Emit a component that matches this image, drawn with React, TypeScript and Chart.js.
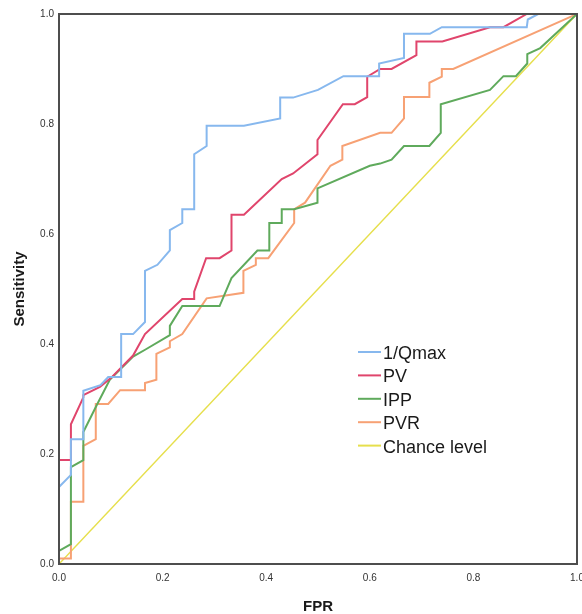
import React, { useEffect, useRef } from "react";
import { Chart, registerables } from "chart.js";

Chart.register(...registerables);

const seriesLabels = ["1/Qmax", "PV", "IPP", "PVR", "Chance level"];
const seriesColors = ["#87b8ee", "#e0456c", "#5faa5c", "#f7a174", "#e6df4c"];
const axisTicks = [0, 0.2, 0.4, 0.6, 0.8, 1.0];

const qmaxRoc: [number, number][] = [
  [0, 0.14], [0.023, 0.162], [0.023, 0.227], [0.047, 0.227], [0.047, 0.315],
  [0.08, 0.325], [0.095, 0.34], [0.12, 0.34], [0.12, 0.418], [0.143, 0.418],
  [0.166, 0.44], [0.166, 0.533], [0.19, 0.544], [0.214, 0.57], [0.214, 0.607],
  [0.238, 0.62], [0.238, 0.645], [0.261, 0.645], [0.261, 0.745], [0.285, 0.76],
  [0.285, 0.797], [0.357, 0.797], [0.427, 0.81], [0.427, 0.848], [0.452, 0.848],
  [0.5, 0.862], [0.549, 0.887], [0.618, 0.887], [0.618, 0.91], [0.666, 0.92],
  [0.666, 0.964], [0.716, 0.964], [0.739, 0.976], [0.903, 0.976], [0.905, 0.99],
  [0.925, 1], [1, 1],
];

const pvRoc: [number, number][] = [
  [0, 0.189], [0.023, 0.189], [0.023, 0.254], [0.047, 0.303], [0.047, 0.307],
  [0.079, 0.322], [0.1, 0.338], [0.143, 0.379], [0.166, 0.418], [0.238, 0.482],
  [0.261, 0.482], [0.261, 0.495], [0.284, 0.556], [0.31, 0.556], [0.333, 0.57],
  [0.333, 0.635], [0.357, 0.635], [0.43, 0.7], [0.452, 0.71], [0.499, 0.745],
  [0.499, 0.771], [0.548, 0.836], [0.571, 0.836], [0.595, 0.849], [0.595, 0.886],
  [0.62, 0.9], [0.642, 0.9], [0.69, 0.925], [0.69, 0.95], [0.74, 0.95],
  [0.832, 0.976], [0.858, 0.976], [0.903, 1], [1, 1],
];

const ippRoc: [number, number][] = [
  [0, 0.024], [0.023, 0.036], [0.023, 0.176], [0.047, 0.189], [0.047, 0.24],
  [0.073, 0.289], [0.098, 0.335], [0.143, 0.377], [0.167, 0.39], [0.214, 0.416],
  [0.214, 0.433], [0.238, 0.469], [0.31, 0.469], [0.333, 0.52], [0.383, 0.57],
  [0.406, 0.57], [0.406, 0.62], [0.43, 0.62], [0.43, 0.645], [0.454, 0.645],
  [0.499, 0.657], [0.499, 0.683], [0.6, 0.724], [0.62, 0.728], [0.642, 0.735],
  [0.666, 0.76], [0.715, 0.76], [0.737, 0.784], [0.737, 0.836], [0.832, 0.862],
  [0.858, 0.887], [0.882, 0.887], [0.904, 0.91], [0.904, 0.927], [0.929, 0.938],
  [1, 1],
];

const pvrRoc: [number, number][] = [
  [0, 0.01], [0.023, 0.01], [0.023, 0.113], [0.047, 0.113], [0.047, 0.215],
  [0.071, 0.227], [0.071, 0.291], [0.095, 0.291], [0.118, 0.316], [0.166, 0.316],
  [0.166, 0.329], [0.188, 0.335], [0.188, 0.382], [0.214, 0.394], [0.214, 0.405],
  [0.238, 0.418], [0.285, 0.483], [0.356, 0.493], [0.356, 0.533], [0.38, 0.544],
  [0.38, 0.556], [0.404, 0.556], [0.454, 0.62], [0.454, 0.645], [0.475, 0.657],
  [0.524, 0.724], [0.547, 0.735], [0.547, 0.76], [0.62, 0.784], [0.642, 0.784],
  [0.666, 0.81], [0.666, 0.849], [0.715, 0.849], [0.715, 0.875], [0.739, 0.886],
  [0.739, 0.9], [0.761, 0.9], [1, 1],
];

const chanceRoc: [number, number][] = [
  [0, 0], [1, 1],
];

const allSeries = [qmaxRoc, pvRoc, ippRoc, pvrRoc, chanceRoc];
const FONT = "'Liberation Sans', Arial, sans-serif";

const framePlugin = {
  id: "frameAndLegend",
  afterDraw(chart: any) {
    const { ctx, chartArea } = chart;
    ctx.save();
    ctx.strokeStyle = "#4d4d4d";
    ctx.lineWidth = 2;
    ctx.strokeRect(chartArea.left, chartArea.top, chartArea.right - chartArea.left, chartArea.bottom - chartArea.top);

    // legend inside plot
    const lx = 358;
    const ly = 354;
    const gap = 23.4;
    ctx.font = `18px ${FONT}`;
    ctx.textBaseline = "middle";
    ctx.textAlign = "left";
    chart.data.datasets.forEach((ds: any, i: number) => {
      const y = ly + i * gap;
      ctx.strokeStyle = ds.borderColor;
      ctx.lineWidth = 2;
      ctx.beginPath();
      ctx.moveTo(lx, y - 2);
      ctx.lineTo(lx + 23, y - 2);
      ctx.stroke();
      ctx.fillStyle = "#1a1a1a";
      ctx.fillText(ds.label, lx + 25, y);
    });
    ctx.restore();
  },
};

export default function App() {
  const ref = useRef<HTMLCanvasElement | null>(null);

  useEffect(() => {
    document.body.style.margin = "0";
    if (!ref.current) return;
    const chart = new Chart(ref.current, {
      type: "scatter",
      data: {
        datasets: allSeries.map((pts, i) => ({
          label: seriesLabels[i],
          data: pts.map(([x, y]) => ({ x, y })),
          showLine: true,
          borderColor: seriesColors[i],
          backgroundColor: seriesColors[i],
          borderWidth: i === 4 ? 1.5 : 2,
          pointRadius: 0,
          tension: 0,
          fill: false,
        })),
      },
      options: {
        animation: false,
        responsive: true,
        maintainAspectRatio: false,
        layout: { padding: { left: 0, right: 5, top: 14, bottom: 0 } },
        plugins: {
          legend: { display: false },
          tooltip: { enabled: false },
        },
        scales: {
          x: {
            type: "linear",
            min: 0,
            max: 1,
            grid: { display: false, drawTicks: false },
            border: { display: false },
            afterBuildTicks: (s: any) => {
              s.ticks = axisTicks.map((v) => ({ value: v }));
            },
            afterFit: (s: any) => {
              s.height = 50;
              s.paddingLeft = 0;
              s.paddingRight = 0;
            },
            ticks: {
              padding: 8,
              color: "#333333",
              font: { family: FONT, size: 10 },
              maxRotation: 0,
              autoSkip: false,
              callback: (v: any) => Number(v).toFixed(1),
            },
            title: {
              display: true,
              text: "FPR",
              color: "#1a1a1a",
              font: { family: FONT, size: 15, weight: "bold", lineHeight: 1 },
              padding: { top: 0, bottom: 0 },
            },
          },
          y: {
            type: "linear",
            min: 0,
            max: 1,
            grid: { display: false, drawTicks: false },
            border: { display: false },
            afterBuildTicks: (s: any) => {
              s.ticks = axisTicks.map((v) => ({ value: v }));
            },
            afterFit: (s: any) => {
              s.width = 59;
              s.paddingTop = 0;
              s.paddingBottom = 0;
            },
            ticks: {
              padding: 5,
              color: "#333333",
              font: { family: FONT, size: 10 },
              autoSkip: false,
              callback: (v: any) => Number(v).toFixed(1),
            },
            title: {
              display: true,
              text: "Sensitivity",
              color: "#1a1a1a",
              font: { family: FONT, size: 15, weight: "bold", lineHeight: 1 },
              padding: { top: 12, bottom: 0 },
            },
          },
        },
      },
      plugins: [framePlugin],
    } as any);
    return () => chart.destroy();
  }, []);

  return (
    <div style={{ position: "relative", width: 582, height: 614, background: "#ffffff" }}>
      <canvas ref={ref} />
    </div>
  );
}
